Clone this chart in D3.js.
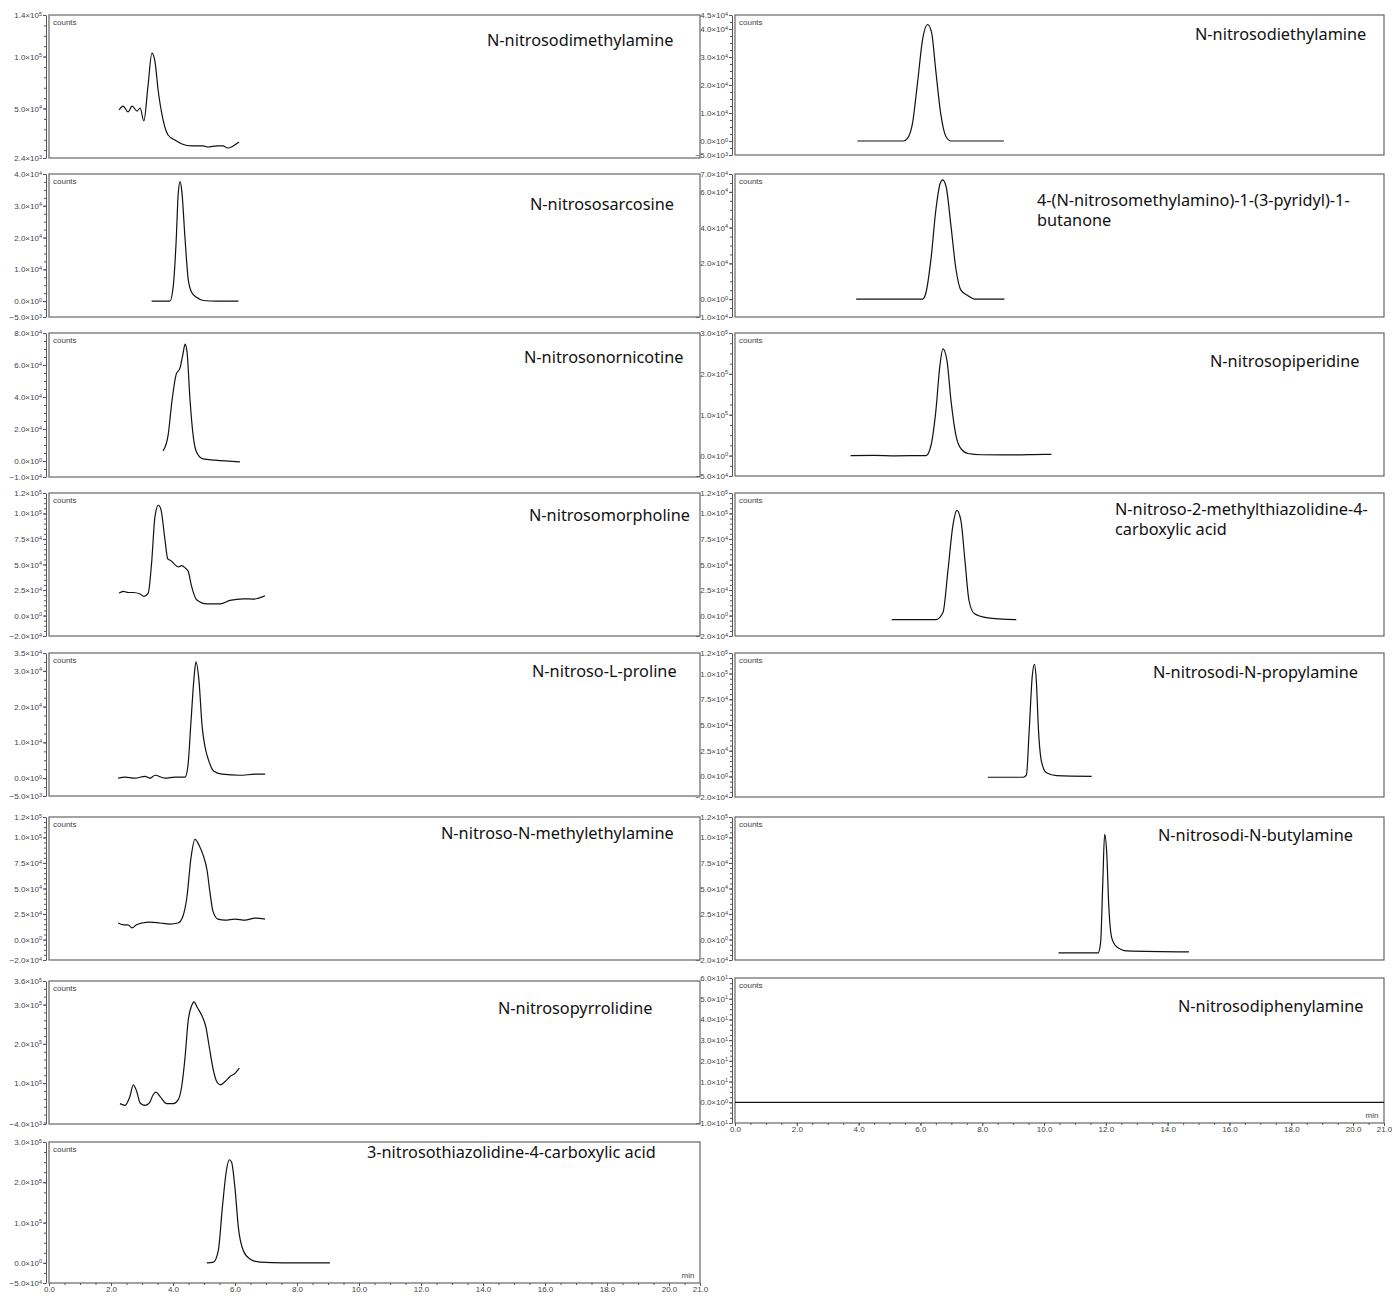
<!DOCTYPE html>
<html>
<head>
<meta charset="utf-8">
<script src="https://cdn.jsdelivr.net/npm/d3@7"></script>
<style>
  body { margin: 0; background: #fff; }
  svg { display: block; }
  .tick text, .small { font-family: "Liberation Sans", Arial, sans-serif; font-size: 8px; fill: #444; }
  .tick line, .domain { stroke: #555; }
  .title { font-family: "Noto Sans", sans-serif; font-size: 16.3px; fill: #111; }
</style>
</head>
<body>
<div id="chart"></div>
<script>
// ---- chromatogram traces: [retention time (min), counts] ----
const ndma = [[2.26,48600],[2.39,52400],[2.55,46700],[2.68,52400],[2.84,47600],[2.94,50500],[3.06,38000],[3.19,70700],[3.32,103400],[3.42,94800],[3.52,67800],[3.68,39000],[3.84,24500],[4.06,19700],[4.29,15900],[4.61,14000],[4.97,14000],[5.13,13000],[5.42,14000],[5.61,14000],[5.77,12000],[5.94,14000],[6.13,17800]];
const ndea = [[3.96,0],[5.45,0],[5.58,900],[5.74,6100],[5.91,21200],[6.07,36300],[6.23,41600],[6.36,38800],[6.50,24800],[6.66,9500],[6.83,1500],[6.99,0],[8.70,0]];
const nsar = [[3.31,0],[3.90,0],[4.01,4900],[4.10,18500],[4.17,34000],[4.23,37600],[4.28,35000],[4.39,19400],[4.49,6900],[4.60,2800],[4.76,1200],[4.98,200],[5.41,0],[6.11,0]];
const nnk = [[3.92,0],[6.07,0],[6.18,3700],[6.34,22200],[6.50,50000],[6.64,64800],[6.72,66700],[6.83,63000],[6.99,40700],[7.15,16700],[7.31,5000],[7.53,2000],[7.75,0],[8.72,0]];
const nnn = [[3.68,6300],[3.84,15900],[3.97,38000],[4.10,54000],[4.23,58400],[4.32,66700],[4.39,73000],[4.45,68600],[4.55,38000],[4.65,15900],[4.77,5100],[4.97,1300],[5.35,600],[6.16,-600]];
const npip = [[3.74,0],[4.5,500],[5.2,-500],[6.0,0],[6.18,0],[6.34,24000],[6.50,110000],[6.63,220000],[6.73,261000],[6.86,232000],[6.99,134000],[7.15,49000],[7.31,17000],[7.54,5000],[7.96,2000],[9.0,1500],[10.0,3000],[10.24,3000]];
const nmor = [[2.26,22000],[2.40,23600],[2.56,22600],[2.72,22600],[2.94,21100],[3.06,18700],[3.20,22000],[3.31,51600],[3.42,97400],[3.53,108000],[3.61,104000],[3.74,74500],[3.83,55500],[3.93,53800],[4.06,49900],[4.17,47600],[4.28,48900],[4.39,46700],[4.49,43300],[4.60,28500],[4.76,15500],[5.09,11500],[5.52,11500],[5.84,14800],[6.27,16400],[6.59,16100],[6.97,19400]];
const nmtca = [[5.07,-4000],[6.50,-4000],[6.73,3000],[6.89,44000],[7.05,88000],[7.18,103000],[7.31,93000],[7.44,54000],[7.57,15000],[7.74,2000],[8.13,-2000],[9.10,-4000]];
const npro = [[2.23,0],[2.45,300],[2.77,0],[3.10,500],[3.26,0],[3.42,800],[3.74,0],[4.06,300],[4.39,300],[4.48,3300],[4.58,15800],[4.68,28300],[4.74,32500],[4.84,27000],[4.94,14400],[5.03,8900],[5.16,4700],[5.32,1900],[5.58,1100],[6.16,800],[6.65,1100],[6.97,1100]];
const ndpa = [[8.18,-800],[9.33,-800],[9.43,1500],[9.52,45000],[9.62,98000],[9.69,109000],[9.75,93000],[9.82,45000],[9.92,14000],[10.08,3500],[10.40,700],[11.54,0]];
const nmea = [[2.23,16200],[2.42,14300],[2.55,14300],[2.68,11400],[2.81,14300],[3.00,16200],[3.26,17100],[3.58,16200],[3.90,15200],[4.16,16200],[4.32,22900],[4.45,41900],[4.58,80000],[4.71,98100],[4.84,92400],[4.97,82900],[5.10,67600],[5.19,46700],[5.29,27600],[5.45,20000],[5.68,19000],[6.00,20000],[6.32,19000],[6.65,21000],[6.97,20000]];
const ndba = [[10.47,-13000],[11.75,-13000],[11.83,-3000],[11.90,55000],[11.96,103000],[12.03,84000],[12.09,36000],[12.19,1700],[12.35,-7000],[12.68,-11000],[14.69,-12000]];
const npyr = [[2.29,47900],[2.45,43600],[2.61,66200],[2.72,95700],[2.83,78800],[2.94,49600],[3.10,43600],[3.24,49600],[3.36,70500],[3.45,77300],[3.58,66200],[3.80,47900],[4.01,47900],[4.17,57900],[4.28,91400],[4.39,167000],[4.49,259000],[4.60,297000],[4.68,307000],[4.78,293000],[4.93,272000],[5.06,243000],[5.17,192000],[5.30,134000],[5.41,104000],[5.52,95700],[5.68,104000],[5.84,117000],[6.00,125000],[6.14,138000]];
const ntca = [[5.09,0],[5.30,1700],[5.46,30000],[5.60,144000],[5.73,233000],[5.82,256000],[5.89,250000],[6.00,185000],[6.11,87000],[6.27,30000],[6.48,9700],[6.81,1700],[7.56,0],[9.06,0]];
const ndpha = [[0,0],[21,0]];

// ---- y tick values per panel ----
const ticksNdma = [140000, 100000, 50000, 2400];
const ticksNdea = [45000, 40000, 30000, 20000, 10000, 0, -5000];
const ticksNsar = [40000, 30000, 20000, 10000, 0, -5000];
const ticksNnk = [70000, 60000, 40000, 20000, 0, -10000];
const ticksNnn = [80000, 60000, 40000, 20000, 0, -10000];
const ticksNpip = [300000, 200000, 100000, 0, -50000];
const ticks12 = [120000, 100000, 75000, 50000, 25000, 0, -20000];
const ticksNpro = [35000, 30000, 20000, 10000, 0, -5000];
const ticksNpyr = [360000, 300000, 200000, 100000, -4000];
const ticksNtca = [300000, 200000, 100000, 0, -50000];
const ticksNdpha = [60, 50, 40, 30, 20, 10, 0, -10];
const xTicks = [0, 2, 4, 6, 8, 10, 12, 14, 16, 18, 20, 21];

// ---- panels ----
const panels = [
  { title: ["N-nitrosodimethylamine"], data: ndma, ticks: ticksNdma, minor: 10000 },
  { title: ["N-nitrososarcosine"], data: nsar, ticks: ticksNsar, minor: 2500 },
  { title: ["N-nitrosonornicotine"], data: nnn, ticks: ticksNnn, minor: 5000 },
  { title: ["N-nitrosomorpholine"], data: nmor, ticks: ticks12, minor: 5000 },
  { title: ["N-nitroso-L-proline"], data: npro, ticks: ticksNpro, minor: 2500 },
  { title: ["N-nitroso-N-methylethylamine"], data: nmea, ticks: ticks12, minor: 5000 },
  { title: ["N-nitrosopyrrolidine"], data: npyr, ticks: ticksNpyr, minor: 20000 },
  { title: ["3-nitrosothiazolidine-4-carboxylic acid"], data: ntca, ticks: ticksNtca, minor: 25000, xAxis: true },
  { title: ["N-nitrosodiethylamine"], data: ndea, ticks: ticksNdea, minor: 2500 },
  { title: ["4-(N-nitrosomethylamino)-1-(3-pyridyl)-1-", "butanone"], data: nnk, ticks: ticksNnk, minor: 5000 },
  { title: ["N-nitrosopiperidine"], data: npip, ticks: ticksNpip, minor: 25000 },
  { title: ["N-nitroso-2-methylthiazolidine-4-", "carboxylic acid"], data: nmtca, ticks: ticks12, minor: 5000 },
  { title: ["N-nitrosodi-N-propylamine"], data: ndpa, ticks: ticks12, minor: 5000 },
  { title: ["N-nitrosodi-N-butylamine"], data: ndba, ticks: ticks12, minor: 5000 },
  { title: ["N-nitrosodiphenylamine"], data: ndpha, ticks: ticksNdpha, minor: 2.5, xAxis: true }
];

// layout: frame [left, right, top, bottom] and title position
const frames = [
  [49, 700, 15, 158], [49, 700, 174, 317], [49, 700, 333, 477], [49, 700, 493, 636],
  [49, 700, 653, 796], [49, 700, 817, 960], [49, 700, 981, 1124], [49, 700, 1142, 1283],
  [735, 1384, 15, 155], [735, 1384, 174, 317], [735, 1384, 333, 476], [735, 1384, 493, 636],
  [735, 1384, 653, 797], [735, 1384, 817, 960], [735, 1384, 978, 1123]
];
const titlePos = [
  [487, 46], [530, 210], [524, 363], [529, 521], [532, 677], [441, 839], [498, 1014], [367, 1158],
  [1195, 40], [1037, 206], [1210, 367], [1115, 515], [1153, 678], [1158, 841], [1178, 1012]
];

const svg = d3.select("#chart").append("svg")
  .attr("width", 1392)
  .attr("height", 1296);

function sciLabel(sel, v) {
  let e = 0, m = 0;
  if (v !== 0) {
    e = Math.floor(Math.log10(Math.abs(v)));
    m = v / Math.pow(10, e);
  }
  sel.text(null);
  sel.append("tspan").text((m < 0 ? "\u2212" : "") + Math.abs(m).toFixed(1) + "\u00d710");
  sel.append("tspan").attr("dy", -2.5).attr("font-size", 5.5).text(String(e));
}

panels.forEach((p, i) => {
  const [left, right, top, bottom] = frames[i];
  const g = svg.append("g");

  const x = d3.scaleLinear().domain([0, 21]).range([left, right]);
  const dom = d3.extent(p.ticks);
  const y = d3.scaleLinear().domain(dom).range([bottom, top]);

  // frame
  g.append("rect")
    .attr("x", left).attr("y", top)
    .attr("width", right - left).attr("height", bottom - top)
    .attr("fill", "none").attr("stroke", "#666").attr("stroke-width", 1.2);

  // y axis
  const ax = left - 3;
  const minorVals = d3.range(Math.ceil(dom[0] / p.minor) * p.minor, dom[1] + 1e-9, p.minor);
  g.append("g")
    .attr("transform", `translate(${ax},0)`)
    .call(d3.axisLeft(y).tickValues(minorVals).tickSize(2).tickFormat(""))
    .call(a => a.select(".domain").remove());
  const ya = g.append("g")
    .attr("transform", `translate(${ax},0)`)
    .call(d3.axisLeft(y).tickValues(p.ticks).tickSize(3).tickSizeOuter(0).tickPadding(1));
  ya.selectAll(".tick text").each(function(d) { sciLabel(d3.select(this), d); });

  g.append("text").attr("class", "small")
    .attr("x", left + 4).attr("y", top + 10)
    .text("counts");

  // x axis on bottom panels
  if (p.xAxis) {
    g.append("g")
      .attr("transform", `translate(0,${bottom})`)
      .call(d3.axisBottom(x).tickValues(d3.range(0, 21.01, 0.5)).tickSize(2).tickFormat(""))
      .call(a => a.select(".domain").remove());
    g.append("g")
      .attr("transform", `translate(0,${bottom})`)
      .call(d3.axisBottom(x).tickValues(xTicks).tickSize(3).tickSizeOuter(0).tickPadding(0).tickFormat(d3.format(".1f")))
      .call(a => a.select(".domain").remove());
    g.append("text").attr("class", "small")
      .attr("x", right - 12).attr("y", bottom - 5)
      .attr("text-anchor", "middle")
      .text("min");
  }

  // trace
  const line = d3.line()
    .x(d => x(d[0]))
    .y(d => y(d[1]))
    .curve(d3.curveMonotoneX);
  g.append("path")
    .datum(p.data)
    .attr("fill", "none")
    .attr("stroke", "#111")
    .attr("stroke-width", 1.2)
    .attr("d", line);

  // title
  const t = g.append("text").attr("class", "title")
    .attr("x", titlePos[i][0]).attr("y", titlePos[i][1]);
  p.title.forEach((s, k) => {
    t.append("tspan").attr("x", titlePos[i][0]).attr("dy", k === 0 ? 0 : 20).text(s);
  });
});
</script>
</body>
</html>
